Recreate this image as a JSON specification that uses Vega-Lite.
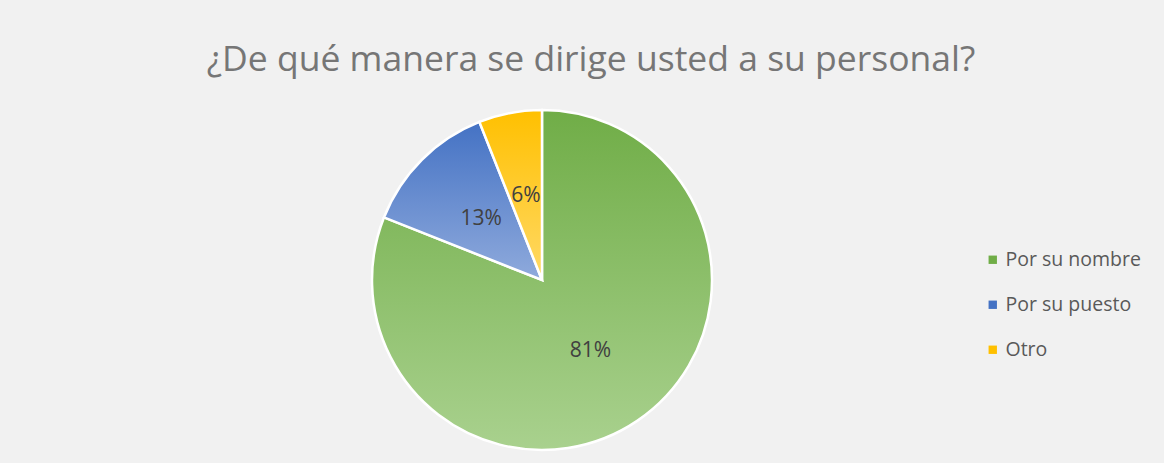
{
  "$schema": "https://vega.github.io/schema/vega-lite/v6.json",
  "autosize": "none",
  "width": 340,
  "height": 340,
  "padding": {"left": 372, "top": 110, "right": 452, "bottom": 13},
  "background": "#f1f1f1",
  "config": {"view": {"stroke": null}, "font": "Open Sans"},
  "title": {
    "text": "¿De qué manera se dirige usted a su personal?",
    "fontSize": 35.5,
    "fontWeight": "normal",
    "color": "#767676",
    "anchor": "middle",
    "dx": 49,
    "baseline": "alphabetic",
    "offset": -1,
    "font": "Open Sans"
  },
  "data": {
    "values": [
      {"respuesta": "Por su nombre", "pct": 81, "label": "81%"},
      {"respuesta": "Por su puesto", "pct": 13, "label": "13%"},
      {"respuesta": "Otro", "pct": 6, "label": "6%"}
    ]
  },
  "encoding": {
    "theta": {"field": "pct", "type": "quantitative", "stack": true},
    "order": {"field": "order", "type": "quantitative"}
  },
  "layer": [
    {
      "mark": {"type": "arc", "outerRadius": 170, "stroke": "white", "strokeWidth": 2.5},
      "encoding": {
        "color": {
          "field": "respuesta",
          "type": "nominal",
          "sort": ["Por su nombre", "Por su puesto", "Otro"],
          "scale": {"domain": ["Por su nombre", "Por su puesto", "Otro"], "range": ["#70ad47", "#4472c4", "#ffc000"]},
          "legend": {
            "title": null,
            "orient": "none",
            "legendX": 611,
            "legendY": 140,
            "symbolType": "square",
            "symbolSize": 70,
            "symbolStrokeWidth": 0,
            "labelFontSize": 19.5,
            "labelColor": "#595959",
            "labelFont": "Open Sans",
            "labelOffset": 3,
            "rowPadding": 24
          },
          "condition": [
            {"test": "datum.respuesta === 'Por su nombre'", "value": {"gradient": "linear", "x1": 0, "y1": 0, "x2": 0, "y2": 1, "stops": [{"offset": 0, "color": "#70ad47"}, {"offset": 1, "color": "#a9d18e"}]}},
            {"test": "datum.respuesta === 'Por su puesto'", "value": {"gradient": "linear", "x1": 0, "y1": 0, "x2": 0, "y2": 1, "stops": [{"offset": 0, "color": "#4472c4"}, {"offset": 1, "color": "#8faadc"}]}},
            {"test": "datum.respuesta === 'Otro'", "value": {"gradient": "linear", "x1": 0, "y1": 0, "x2": 0, "y2": 1, "stops": [{"offset": 0, "color": "#ffc000"}, {"offset": 1, "color": "#ffd966"}]}}
          ]
        }
      }
    },
    {
      "mark": {"type": "text", "radius": 86, "fontSize": 21, "color": "#404040", "font": "Open Sans"},
      "encoding": {"text": {"field": "label", "type": "nominal"}}
    }
  ]
}
